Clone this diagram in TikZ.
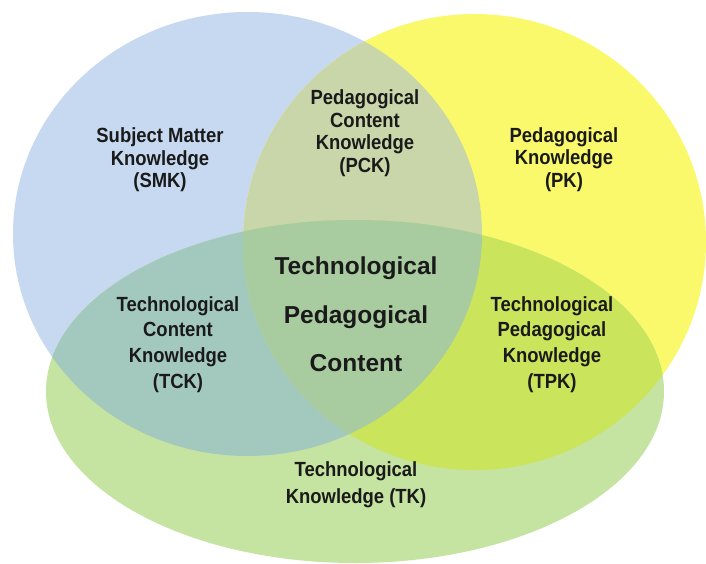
\documentclass[tikz,border=0pt]{standalone}
\usepackage{fontspec}
\setmainfont{Liberation Sans}
\newfontfamily\labfont[FakeStretch=0.9]{Liberation Sans}
\definecolor{cblue}{HTML}{C6D9F0}
\definecolor{cyellow}{HTML}{FAF96C}
\definecolor{cgreen}{HTML}{C5E3A1}
\definecolor{cby}{HTML}{C8D6AA}
\definecolor{cbg}{HTML}{A3C9BE}
\definecolor{cyg}{HTML}{CAE45C}
\definecolor{cbyg}{HTML}{A8CCA0}
\definecolor{ctext}{HTML}{1A1A1A}
\def\bluepath{(247.5,234) ellipse [x radius=234.5, y radius=222]}
\def\yellowpath{(474.5,242) ellipse [x radius=231.5, y radius=228]}
\def\greenpath{(355,391.5) ellipse [x radius=309, y radius=171.5]}
\begin{document}
\begin{tikzpicture}[x=1pt,y=-1pt,
  lab/.style={text=ctext, align=center, inner sep=0pt, font=\labfont\bfseries\fontsize{20.5}{22.5}\selectfont},
  labwide/.style={lab, font=\labfont\bfseries\fontsize{20.5}{25.7}\selectfont},
  labcenter/.style={text=ctext, align=center, inner sep=0pt, font=\bfseries\fontsize{24.5}{48.5}\selectfont},
  labtk/.style={lab, font=\labfont\bfseries\fontsize{20.5}{27}\selectfont}]
\useasboundingbox (0,0) rectangle (706,564);
\fill[white] (0,0) rectangle (706,564);
% base shapes
\fill[cblue] \bluepath;
\fill[cyellow] \yellowpath;
\fill[cgreen] \greenpath;
% pairwise overlaps
\begin{scope}
  \clip \bluepath;
  \fill[cby] \yellowpath;
\end{scope}
\begin{scope}
  \clip \bluepath;
  \fill[cbg] \greenpath;
\end{scope}
\begin{scope}
  \clip \yellowpath;
  \fill[cyg] \greenpath;
\end{scope}
% triple overlap
\begin{scope}
  \clip \bluepath;
  \clip \yellowpath;
  \fill[cbyg] \greenpath;
\end{scope}
% labels
\node[lab] (smk) at (160,160) {Subject Matter\\Knowledge\\(SMK)};
\node[lab] (pck) at (365,133) {Pedagogical\\Content\\Knowledge\\(PCK)};
\node[lab] (pk) at (564,159.5) {Pedagogical\\Knowledge\\(PK)};
\node[labwide] (tck) at (178,344.5) {Technological\\Content\\Knowledge\\(TCK)};
\node[labwide] (tpk) at (552,344.5) {Technological\\Pedagogical\\Knowledge\\(TPK)};
\node[labcenter] (tpc) at (356,314.5) {Technological\\Pedagogical\\Content};
\node[labtk] (tk) at (356,484.5) {Technological\\Knowledge (TK)};
\end{tikzpicture}
\end{document}
